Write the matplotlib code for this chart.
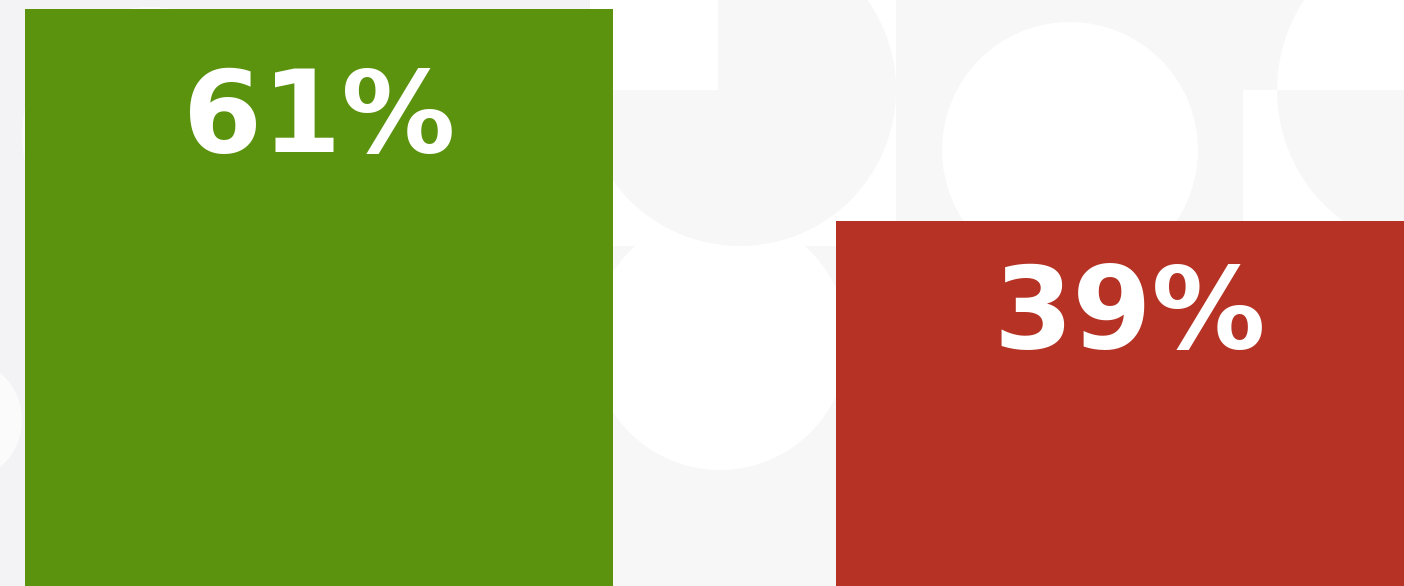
import matplotlib.pyplot as plt
from matplotlib.patches import Circle, Rectangle

# data
answers = ['Yes', 'No']
shares = [61, 39]
labels = ['61%', '39%']
colors = ['#5b930e', '#b53224']

GRAY = '#f7f7f7'
LEFT_GRAY = '#f3f3f5'

fig = plt.figure(figsize=(14.04, 5.86), dpi=100)
fig.patch.set_facecolor('white')

# decorative background, drawn in pixel space
bg = fig.add_axes([0, 0, 1, 1], zorder=0)
bg.set_xlim(0, 1404)
bg.set_ylim(586, 0)
bg.axis('off')


def tile(x0, y0, x1, y1, color):
    r = Rectangle((x0, y0), x1 - x0, y1 - y0, facecolor=color, edgecolor='none')
    bg.add_patch(r)
    return r


def disc(cx, cy, rad, color, clip):
    c = Circle((cx, cy), rad, facecolor=color, edgecolor='none')
    bg.add_patch(c)
    c.set_clip_path(clip)


# left column
t = tile(0, 0, 590, 586, LEFT_GRAY)
disc(150, 135, 128, '#fafafa', t)
disc(-40, 420, 62, '#fbfbfb', t)

# top row
t = tile(590, 0, 896, 246, 'white')
disc(740, 90, 156, GRAY, t)
tile(590, 0, 718, 90, 'white')

t = tile(896, 0, 1243, 246, GRAY)
disc(1070, 150, 128, 'white', t)

t = tile(1243, 0, 1404, 90, GRAY)
disc(1440, 90, 163, 'white', t)
t = tile(1243, 90, 1404, 246, 'white')
disc(1440, 90, 163, GRAY, t)

# bottom row
t = tile(590, 246, 1404, 586, GRAY)
disc(720, 342, 128, 'white', t)

# bars
ax = fig.add_axes([0, 0, 1, 1], zorder=1)
ax.set_facecolor('none')
x = range(len(shares))
ax.bar(x, shares, width=0.724, color=colors, edgecolor='none')
ax.set_xlim(-0.3934, 1.338)
ax.set_ylim(1.12, 61.93)
ax.axis('off')

# labels: baseline offset below the bar top, in pixels
label_drop = [143, 127]
for i, (v, lab) in enumerate(zip(shares, labels)):
    ax.annotate(lab, xy=(i, v), xytext=(0, -label_drop[i] * 72 / 100),
                textcoords='offset points', ha='center', va='baseline',
                color='white', fontsize=82, fontweight='bold',
                family='DejaVu Sans')

fig.savefig('out.png', dpi=100)
